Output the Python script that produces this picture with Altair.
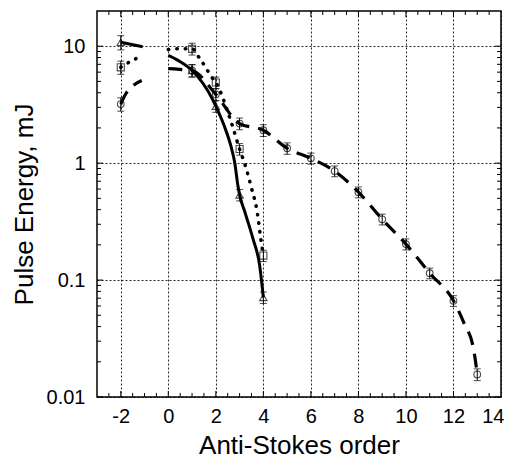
import altair as alt
import pandas as pd

order_tri = [-2, 1, 2, 3, 4]
energy_tri = [10.8, 6.2, 3.07, 0.535, 0.071]
err_tri = [1.5, 0.75, 0.35, 0.06, 0.008]

order_sq = [-2, 1, 2, 3, 4]
energy_sq = [6.6, 9.5, 4.89, 1.32, 0.162]
err_sq = [0.85, 1.1, 0.55, 0.15, 0.018]

order_circ = [-2, 1, 2, 3, 4, 5, 6, 7, 8, 9, 10, 11, 12, 13]
energy_circ = [3.2, 6.2, 3.87, 2.18, 1.91, 1.34, 1.1, 0.855, 0.565, 0.331, 0.203, 0.1145, 0.0665, 0.0156]
err_circ = [0.42, 0.75, 0.45, 0.25, 0.22, 0.15, 0.12, 0.09, 0.06, 0.035, 0.022, 0.012, 0.007, 0.0018]

# ---- fitted curves, two pieces each ----
solid_x1 = [-2, -1.08]
solid_y1 = [10.8, 9.88]
solid_x2 = [0.0, 0.46, 1, 1.86, 2, 2.35, 2.63, 2.8, 2.92, 3, 3.22, 3.56, 3.84, 4]
solid_y2 = [8.33, 7.45, 6.2, 3.52, 3.07, 2.09, 1.41, 1.0, 0.66, 0.535, 0.383, 0.227, 0.135, 0.071]

dotted_x1 = [-2, -1.57, -1.19]
dotted_y1 = [6.6, 7.44, 8.12]
dotted_x2 = [0.0, 0.3, 1, 1.33, 1.58, 1.79, 2, 2.63, 3, 3.26, 3.47, 3.75, 3.89, 4]
dotted_y2 = [9.37, 9.5, 9.5, 7.8, 6.55, 5.56, 4.89, 2.3, 1.32, 0.925, 0.645, 0.371, 0.227, 0.162]

dashed_x1 = [-2, -1.8, -1.5, -1.12]
dashed_y1 = [3.2, 3.88, 4.57, 5.09]
dashed_x2 = [0.0, 0.46, 1, 2, 3, 4, 5, 6, 7, 8, 9, 10, 11, 12, 12.44, 12.85, 13]
dashed_y2 = [6.42, 6.34, 6.2, 3.87, 2.18, 1.91, 1.34, 1.1, 0.855, 0.565, 0.331, 0.203, 0.1145, 0.0665, 0.043, 0.0255, 0.0156]

# ---- axis ticks ----
x_labels = [-2, 0, 2, 4, 6, 8, 10, 12, 14]
x_major = [-2, 0, 2, 4, 6, 8, 10, 12]
x_minor = [-2.5, -1.5, -1, -0.5, 0.5, 1, 1.5, 2.5, 3, 3.5, 4.5, 5, 5.5, 6.5, 7, 7.5,
           8.5, 9, 9.5, 10.5, 11, 11.5, 12.5, 13, 13.5]
y_labels = [0.01, 0.1, 1, 10]
y_minor = [0.02, 0.03, 0.04, 0.05, 0.06, 0.07, 0.08, 0.09,
           0.2, 0.3, 0.4, 0.5, 0.6, 0.7, 0.8, 0.9,
           2, 3, 4, 5, 6, 7, 8, 9]

W, H = 404, 386
FONT = "Liberation Sans"

xs = alt.Scale(domain=[-3, 14], nice=False, zero=False)
ysc = alt.Scale(type="log", domain=[0.01, 20], nice=False)

xax = alt.Axis(title="Anti-Stokes order", values=x_labels, labelExpr="'' + datum.value",
               grid=True, ticks=False, tickSize=0, domain=False,
               labelPadding=9, titlePadding=6, labelFontSize=20, titleFontSize=26,
               labelFont=FONT, titleFont=FONT, labelColor="black", titleColor="black",
               titleFontWeight="normal", gridDash=[2, 2], gridColor="black",
               gridWidth=1, gridOpacity=0.85, labelFlush=True, labelFlushOffset=3,
               labelOverlap=False)
yax = alt.Axis(title="Pulse Energy, mJ", values=y_labels, labelExpr="'' + datum.value",
               grid=True, ticks=False, tickSize=0, domain=False,
               labelPadding=12, titlePadding=9, labelFontSize=20, titleFontSize=26,
               labelFont=FONT, titleFont=FONT, labelColor="black", titleColor="black",
               titleFontWeight="normal", gridDash=[2, 2], gridColor="black",
               gridWidth=1, gridOpacity=0.85, labelOverlap=False)


def X(field):
    return alt.X(field, type="quantitative", scale=xs, axis=xax)


def Y(field):
    return alt.Y(field, type="quantitative", scale=ysc, axis=yax)


def pts(xv, yv, ev):
    return pd.DataFrame({"order": xv, "energy": yv,
                         "lo": [a - b for a, b in zip(yv, ev)],
                         "hi": [a + b for a, b in zip(yv, ev)]})


def curve(x1, y1, x2, y2):
    return pd.DataFrame({"order": list(x1) + list(x2),
                         "energy": list(y1) + list(y2),
                         "seg": ["a"] * len(x1) + ["b"] * len(x2)})


layers = []

# curves
for (x1, y1, x2, y2), style in [
    ((solid_x1, solid_y1, solid_x2, solid_y2), dict(strokeWidth=3)),
    ((dotted_x1, dotted_y1, dotted_x2, dotted_y2), dict(strokeWidth=3.5, strokeDash=[0.5, 8], strokeCap="round")),
    ((dashed_x1, dashed_y1, dashed_x2, dashed_y2), dict(strokeWidth=3.2, strokeDash=[14, 9])),
]:
    layers.append(
        alt.Chart(curve(x1, y1, x2, y2)).mark_line(color="black", interpolate="monotone", **style)
        .encode(x=X("order"), y=Y("energy"), detail="seg:N")
    )

# error bars and markers
for (xv, yv, ev), shape, size in [
    ((order_tri, energy_tri, err_tri), "triangle-up", 55),
    ((order_sq, energy_sq, err_sq), "square", 50),
    ((order_circ, energy_circ, err_circ), "circle", 45),
]:
    df = pts(xv, yv, ev)
    base = alt.Chart(df)
    layers.append(base.mark_rule(color="black", strokeWidth=1).encode(x=X("order"), y=Y("lo"), y2="hi"))
    layers.append(base.mark_tick(color="black", orient="horizontal", size=7, thickness=1)
                  .encode(x=X("order"), y=Y("lo")))
    layers.append(base.mark_tick(color="black", orient="horizontal", size=7, thickness=1)
                  .encode(x=X("order"), y=Y("hi")))
    layers.append(base.mark_point(shape=shape, size=size, color="black", filled=False, strokeWidth=1.1)
                  .encode(x=X("order"), y=Y("energy")))

# inward tick marks on all four sides
xt_major = pd.DataFrame({"v": x_major})
xt_minor = pd.DataFrame({"v": x_minor})
yt_major = pd.DataFrame({"v": y_labels})
yt_minor = pd.DataFrame({"v": y_minor})
for df, ln in [(xt_major, 6), (xt_minor, 4)]:
    layers.append(alt.Chart(df).mark_rule(color="black", strokeWidth=1)
                  .encode(x=X("v"), y=alt.value(H), y2=alt.value(H - ln)))
    layers.append(alt.Chart(df).mark_rule(color="black", strokeWidth=1)
                  .encode(x=X("v"), y=alt.value(0), y2=alt.value(ln)))
for df, ln in [(yt_major, 6), (yt_minor, 4)]:
    layers.append(alt.Chart(df).mark_rule(color="black", strokeWidth=1)
                  .encode(y=Y("v"), x=alt.value(0), x2=alt.value(ln)))
    layers.append(alt.Chart(df).mark_rule(color="black", strokeWidth=1)
                  .encode(y=Y("v"), x=alt.value(W), x2=alt.value(W - ln)))

chart = alt.layer(*layers).properties(
    width=W, height=H,
    autosize=alt.AutoSizeParams(type="none"),
    padding={"left": 89, "top": 3, "right": 3, "bottom": 64},
    background="white",
).configure_view(stroke="black", strokeWidth=1.5)

chart.save("out.html", embed_options={"renderer": "svg", "actions": False})
